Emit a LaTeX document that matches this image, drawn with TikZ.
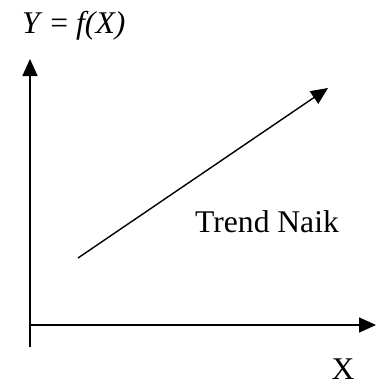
\documentclass[tikz,border=0pt]{standalone}
\usepackage{fontspec}
\setmainfont{Liberation Serif}
\usetikzlibrary{arrows.meta}
\begin{document}
\begin{tikzpicture}[x=1pt,y=-1pt,
  axis/.style={line width=1.6pt,-{Triangle[length=17pt,width=15pt]}},
  trend/.style={line width=1.4pt,-{Triangle[length=17pt,width=15pt]}},
  lbl/.style={inner sep=0pt,font=\fontsize{31.6}{38}\selectfont}]
\useasboundingbox (0,0) rectangle (376,388);
\coordinate (ybot) at (30,347);
\coordinate (ytop) at (30,59);
\coordinate (xl) at (29.2,325);
\coordinate (xr) at (376,325);
\coordinate (ts) at (78,258);
\coordinate (te) at (328,88);
\draw[axis] (ybot) -- (ytop);
\draw[axis] (xl) -- (xr);
\draw[trend] (ts) -- (te);
\node[lbl,anchor=base west] (ylab) at (22,33) {\textit{Y} = \textit{f(X)}};
\node[lbl,anchor=base] (xlab) at (343,379) {X};
\node[lbl,anchor=base west] (tlab) at (195,232) {Trend Naik};
\end{tikzpicture}
\end{document}
